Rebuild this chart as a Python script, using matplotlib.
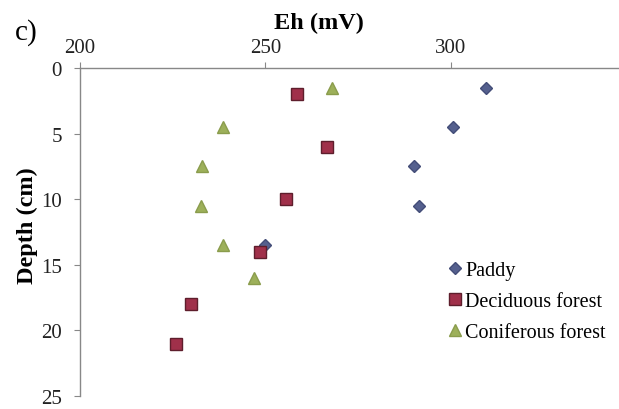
import matplotlib
matplotlib.use('Agg')
import matplotlib.pyplot as plt

# Eh (mV) and depth (cm) per site
paddy_eh = [309.5, 300.5, 290, 291.5, 250]
paddy_depth = [1.5, 4.5, 7.5, 10.5, 13.5]

deciduous_eh = [258.5, 266.5, 255.5, 248.5, 230, 226]
deciduous_depth = [2, 6, 10, 14, 18, 21]

coniferous_eh = [268, 238.5, 233, 232.5, 238.5, 247]
coniferous_depth = [1.5, 4.5, 7.5, 10.5, 13.5, 16]

x_ticks = [200, 250, 300]
y_ticks = [0, 5, 10, 15, 20, 25]

plt.rcParams['font.family'] = ['Liberation Serif', 'DejaVu Serif']

fig = plt.figure(figsize=(6.19, 4.10), dpi=100)
# plot area runs past the right edge (x axis is cut off like the original)
ax = fig.add_axes([0.1292, 0.0317, 0.899, 0.8])

ax.plot(paddy_eh, paddy_depth, linestyle='none', marker='D', markersize=6.5,
        color='#55608e', markeredgecolor='#434d78', label='Paddy')
ax.plot(deciduous_eh, deciduous_depth, linestyle='none', marker='s', markersize=8,
        color='#a0304a', markeredgecolor='#5e1e2c', label='Deciduous forest')
ax.plot(coniferous_eh, coniferous_depth, linestyle='none', marker='^', markersize=8,
        color='#9db05a', markeredgecolor='#8a9c4c', label='Coniferous forest')

ax.set_xlim(200, 350)
ax.set_ylim(25, 0)
ax.set_xticks(x_ticks)
ax.set_yticks(y_ticks)
ax.xaxis.tick_top()
ax.xaxis.set_label_position('top')
ax.tick_params(axis='both', labelsize=15, color='#888888', length=4, width=0.8,
               labelcolor='#222222')
ax.tick_params(axis='x', pad=4)
ax.tick_params(axis='y', pad=9)

for side in ['right', 'bottom']:
    ax.spines[side].set_visible(False)
for side in ['top', 'left']:
    ax.spines[side].set_color('#888888')
    ax.spines[side].set_linewidth(1.0)

ax.set_xlabel('Eh (mV)', fontsize=17.5, fontweight='bold', va='center')
ax.xaxis.set_label_coords(0.43, 1.14)
ax.set_ylabel('Depth (cm)', fontsize=17.5, fontweight='bold', va='center')
ax.yaxis.set_label_coords(-0.095, 0.521)

ax.legend(loc='upper left', bbox_to_anchor=(0.722, 0.362),
          bbox_transform=fig.transFigure, frameon=False,
          fontsize=14.5, handlelength=0.8, handletextpad=0.1, labelspacing=0.6,
          borderaxespad=0, borderpad=0)

fig.text(0.024, 0.921, 'c)', fontsize=21, va='center')

fig.savefig('out.png', dpi=100)
